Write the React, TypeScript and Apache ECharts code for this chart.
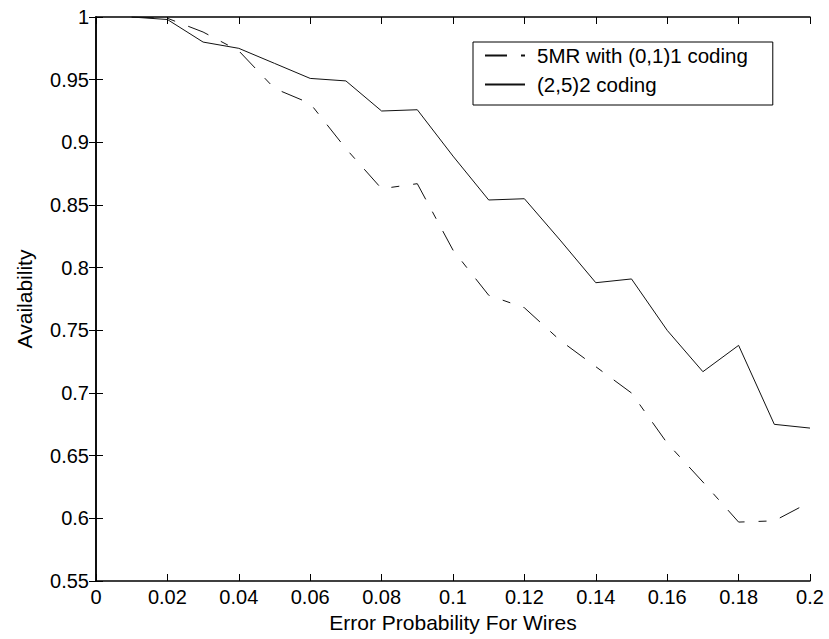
import React, { useEffect, useRef } from "react";
import * as echarts from "echarts";

const errorProbability = [
  0.01, 0.02, 0.03, 0.04, 0.05, 0.06, 0.07, 0.08, 0.09, 0.1,
  0.11, 0.12, 0.13, 0.14, 0.15, 0.16, 0.17, 0.18, 0.19, 0.2,
];
const fiveMR = [
  1.0, 0.999, 0.988, 0.973, 0.943, 0.931, 0.895, 0.863, 0.867, 0.814,
  0.778, 0.768, 0.742, 0.721, 0.7, 0.66, 0.629, 0.597, 0.598, 0.613,
];
const coding25 = [
  1.0, 0.998, 0.98, 0.975, 0.963, 0.951, 0.949, 0.925, 0.926, 0.889,
  0.854, 0.855, 0.822, 0.788, 0.791, 0.75, 0.717, 0.738, 0.675, 0.672,
];
const seriesNames = ["5MR with (0,1)1 coding", "(2,5)2 coding"];
const xTitle = "Error Probability For Wires";
const yTitle = "Availability";

const FONT = "'Liberation Sans', Arial, Helvetica, sans-serif";
const fmt = (v: number) => String(parseFloat(Number(v).toFixed(2)));

export default function App() {
  const ref = useRef<HTMLDivElement>(null);
  useEffect(() => {
    if (!ref.current) return;
    const chart = echarts.init(ref.current, undefined, { renderer: "svg" });
    const axisLine = { show: true, lineStyle: { color: "#000", width: 1.5 } };
    const tick = { show: true, inside: true, length: 7, lineStyle: { color: "#000", width: 1 } };
    const xBase = { type: "value" as const, min: 0, max: 0.2, interval: 0.02, splitLine: { show: false } };
    const yBase = { type: "value" as const, min: 0.55, max: 1, interval: 0.05, splitLine: { show: false } };
    chart.setOption({
      animation: false,
      backgroundColor: "#fff",
      textStyle: { fontFamily: FONT },
      grid: { left: 96, right: 19, top: 17, bottom: 58, containLabel: false },
      xAxis: [
        {
          ...xBase,
          position: "bottom",
          axisLine,
          axisTick: tick,
          axisLabel: { color: "#000", fontSize: 20, fontFamily: FONT, margin: 6, formatter: fmt },
          name: xTitle,
          nameLocation: "middle",
          nameGap: 23,
          nameTextStyle: { color: "#000", fontSize: 21, fontFamily: FONT },
        },
        {
          ...xBase,
          position: "top",
          axisLine,
          axisTick: tick,
          axisLabel: { show: false },
        },
      ],
      yAxis: [
        {
          ...yBase,
          position: "left",
          axisLine,
          axisTick: tick,
          axisLabel: { color: "#000", fontSize: 20, fontFamily: FONT, margin: 7, formatter: fmt },
          name: yTitle,
          nameLocation: "middle",
          nameGap: 61,
          nameTextStyle: { color: "#000", fontSize: 21, fontFamily: FONT },
        },
        {
          ...yBase,
          position: "right",
          axisLine,
          axisTick: tick,
          axisLabel: { show: false },
        },
      ],
      legend: {
        left: 473,
        top: 42,
        orient: "vertical",
        backgroundColor: "#fff",
        borderColor: "#000",
        borderWidth: 1,
        borderRadius: 0,
        padding: [3, 25, 10, 11],
        itemWidth: 40,
        itemHeight: 14,
        itemGap: 8,
        itemStyle: { opacity: 0 },
        textStyle: { color: "#000", fontSize: 20.5, fontFamily: FONT, lineHeight: 20, padding: [0, 0, 0, 7] },
        data: seriesNames,
      },
      series: [
        {
          name: seriesNames[0],
          type: "line",
          symbol: "none",
          xAxisIndex: 0,
          yAxisIndex: 0,
          data: errorProbability.map((x, i) => [x, fiveMR[i]]),
          lineStyle: { color: "#111", width: 1, type: [22, 14, 8, 14] },
          itemStyle: { color: "#111" },
        },
        {
          name: seriesNames[1],
          type: "line",
          symbol: "none",
          xAxisIndex: 0,
          yAxisIndex: 0,
          data: errorProbability.map((x, i) => [x, coding25[i]]),
          lineStyle: { color: "#111", width: 1, type: "solid" },
          itemStyle: { color: "#111" },
        },
      ],
    });
    return () => chart.dispose();
  }, []);
  return <div ref={ref} style={{ width: 829, height: 639, position: "absolute", left: 0, top: 0 }} />;
}
